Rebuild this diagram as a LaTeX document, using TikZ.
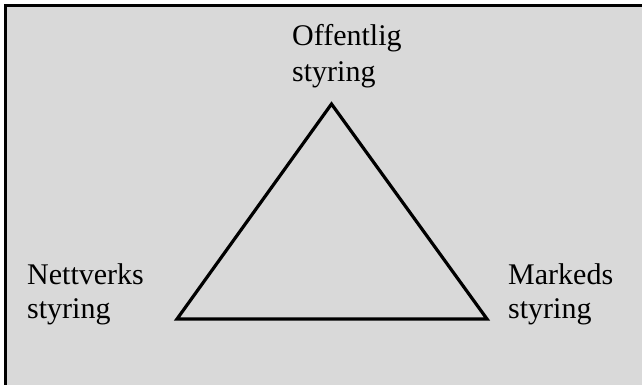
\documentclass[tikz,border=0pt]{standalone}
\usepackage{fontspec}
\setmainfont{Liberation Serif}
\definecolor{bg}{gray}{0.85}
\tikzset{lbl/.style={inner sep=0pt,align=left,anchor=base west,font=\fontsize{30}{34}\selectfont}}
\begin{document}
\begin{tikzpicture}[x=1pt,y=-1pt,line join=miter]
	\useasboundingbox (0,0) rectangle (642,385);
	\fill[bg] (6,6) rectangle (642,385);
	\draw[line width=2.5pt] (5.5,385)--(5.5,5.5)--(642,5.5);
	\path 
	(331.5,104)coordinate(O)
	(177,319)coordinate(N)
	(487,319)coordinate(M)
	;
	\draw[line width=3.2pt] (O)--(N)--(M)--cycle;
	\node[lbl,font=\fontsize{30}{36}\selectfont] (off) at (292,82) {Offentlig\\styring};
	\node[lbl] (nett) at (27,318) {Nettverks\\styring};
	\node[lbl] (mark) at (508,318) {Markeds\\styring};
\end{tikzpicture}
\end{document}
